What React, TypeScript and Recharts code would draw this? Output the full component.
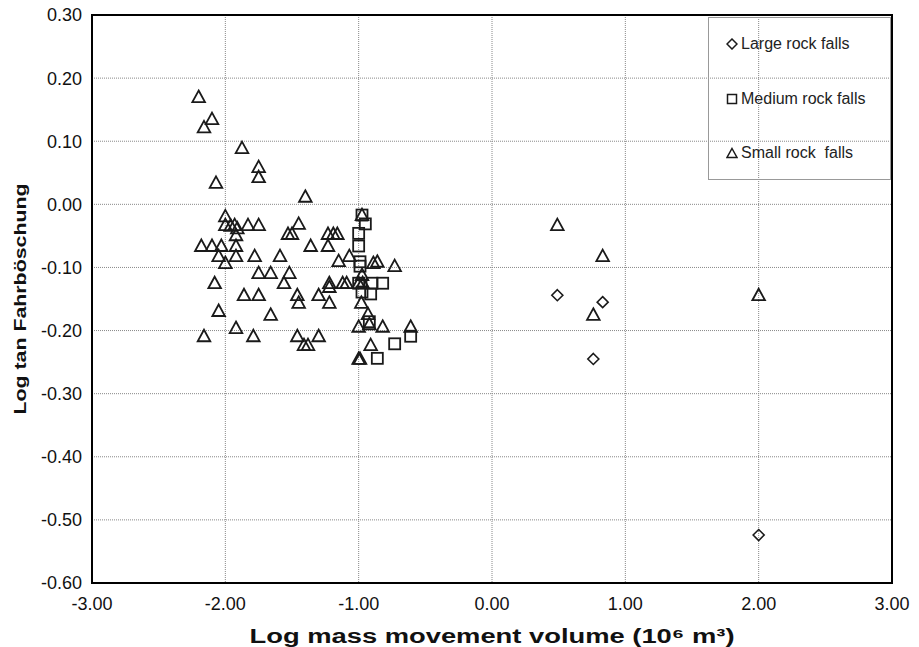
import React from "react";
import { ScatterChart, Scatter, XAxis, YAxis, CartesianGrid, ReferenceArea, Legend, Label } from "recharts";

// Log volume (x) vs log tan Fahrböschung (y)
const largeX = [0.49, 0.83, 0.76, 2.0];
const largeY = [-0.144, -0.155, -0.245, -0.524];

const mediumX = [-0.975, -0.95, -1.0, -1.0, -0.99, -0.99, -1.0, -0.9, -0.82, -0.975, -0.91, -0.92, -0.61, -0.73, -0.86];
const mediumY = [-0.017, -0.031, -0.046, -0.066, -0.091, -0.098, -0.125, -0.125, -0.125, -0.139, -0.142, -0.186, -0.209, -0.221, -0.244];

const smallX = [
  -2.2, -2.16, -2.1, -1.875, -1.75, -1.75, -2.07, -1.4,
  -2.0, -2.0, -1.96, -1.93, -1.91, -1.92, -1.83, -1.75, -1.45, -1.53, -1.5, -1.23, -1.19, -1.16,
  -2.18, -2.1, -2.03, -1.92, -1.36, -1.23,
  -2.05, -1.92, -1.78, -1.59, -1.15, -1.07,
  -2.0, -1.75, -1.66, -1.52,
  -2.08, -1.56, -1.22, -1.22, -1.12, -1.09,
  -1.86, -1.75, -1.46, -1.45, -1.3, -1.22,
  -2.05, -1.66, -1.92, -2.16, -1.79, -1.46, -1.3, -1.41, -1.38,
  -0.975, -0.89, -0.86, -0.73, -0.975, -1.0, -0.97, -0.98, -0.93, -0.92, -1.0, -0.82, -0.61, -0.91, -1.0, -0.99,
  0.49, 0.83, 0.76, 2.0,
];
const smallY = [
  0.17, 0.122, 0.135, 0.089, 0.059, 0.043, 0.034, 0.012,
  -0.019, -0.033, -0.034, -0.033, -0.038, -0.049, -0.033, -0.033, -0.031, -0.047, -0.047, -0.047, -0.047, -0.047,
  -0.066, -0.066, -0.066, -0.066, -0.066, -0.066,
  -0.082, -0.082, -0.082, -0.082, -0.09, -0.082,
  -0.093, -0.109, -0.109, -0.109,
  -0.125, -0.125, -0.125, -0.131, -0.125, -0.125,
  -0.144, -0.144, -0.144, -0.156, -0.144, -0.156,
  -0.169, -0.175, -0.196, -0.209, -0.209, -0.209, -0.209, -0.223, -0.223,
  -0.017, -0.093, -0.091, -0.098, -0.112, -0.125, -0.125, -0.156, -0.174, -0.19, -0.194, -0.194, -0.194, -0.223, -0.245, -0.245,
  -0.033, -0.082, -0.175, -0.144,
];

const xTicks = [-3, -2, -1, 0, 1, 2, 3];
const yTicks = [-0.6, -0.5, -0.4, -0.3, -0.2, -0.1, 0, 0.1, 0.2, 0.3];

const seriesNames = ["Large rock falls", "Medium rock falls", "Small rock  falls"];

const toPoints = (xs: number[], ys: number[]) => xs.map((x, i) => ({ x, y: ys[i] }));

const INK = "#1a1a1a";
const FONT = "'Liberation Sans', Arial, sans-serif";

function Diamond(p: any) {
  const r = 5.5;
  return (
    <path
      d={`M${p.cx},${p.cy - r} L${p.cx + r},${p.cy} L${p.cx},${p.cy + r} L${p.cx - r},${p.cy} Z`}
      fill="none"
      stroke={INK}
      strokeWidth={1.6}
    />
  );
}

function Square(p: any) {
  const r = 5.5;
  return <rect x={p.cx - r} y={p.cy - r} width={2 * r} height={2 * r} fill="none" stroke={INK} strokeWidth={1.8} />;
}

function Triangle(p: any) {
  return (
    <path
      d={`M${p.cx},${p.cy - 6.5} L${p.cx + 6.3},${p.cy + 5} L${p.cx - 6.3},${p.cy + 5} Z`}
      fill="none"
      stroke={INK}
      strokeWidth={1.8}
      strokeLinejoin="miter"
    />
  );
}

function LegendBox() {
  const marks = [
    <path key="d" d="M6,1 L11,6 L6,11 L1,6 Z" fill="none" stroke={INK} strokeWidth={1.5} />,
    <rect key="s" x={1.5} y={1.5} width={9} height={9} fill="none" stroke={INK} strokeWidth={1.5} />,
    <path key="t" d="M6,1.5 L11,10.5 L1,10.5 Z" fill="none" stroke={INK} strokeWidth={1.5} />,
  ];
  return (
    <div style={{ width: 183, height: 163, border: "1px solid #999", boxSizing: "border-box", position: "relative", fontFamily: FONT }}>
      {seriesNames.map((name, i) => (
        <div key={name} style={{ position: "absolute", left: 17, top: 17 + i * 54.5, display: "flex", alignItems: "center", fontSize: 16, color: "#222", whiteSpace: "pre" }}>
          <svg width={12} height={12} style={{ marginRight: 3 }}>{marks[i]}</svg>
          {name}
        </div>
      ))}
    </div>
  );
}

export default function App() {
  return (
    <div style={{ position: "absolute", left: 0, top: 0, width: 919, height: 647, background: "#fff" }}>
      <ScatterChart width={919} height={647} margin={{ top: 15, right: 27, bottom: 0, left: 0 }}>
        <CartesianGrid stroke="#888" strokeDasharray="1 1" />
        <XAxis
          type="number"
          dataKey="x"
          domain={[-3, 3]}
          ticks={xTicks}
          tickFormatter={(v: number) => v.toFixed(2)}
          height={64}
          tickSize={0}
          tickMargin={14}
          axisLine={false}
          tick={{ fontSize: 18, fill: "#111", fontFamily: FONT }}
        >
          <Label
            content={(props: any) => {
              const vb = props.viewBox;
              return (
                <text
                  x={vb.x + vb.width / 2}
                  y={643}
                  textAnchor="middle"
                  fontFamily={FONT}
                  fontWeight="bold"
                  fontSize={20}
                  fill="#111"
                  textLength={485}
                  lengthAdjust="spacingAndGlyphs"
                >
                  Log mass movement volume (10⁶ m³)
                </text>
              );
            }}
          />
        </XAxis>
        <YAxis
          type="number"
          dataKey="y"
          domain={[-0.6, 0.3]}
          ticks={yTicks}
          tickFormatter={(v: number) => v.toFixed(2)}
          width={92}
          tickSize={0}
          tickMargin={10}
          axisLine={false}
          tick={{ fontSize: 18, fill: "#111", fontFamily: FONT }}
        >
          <Label
            content={(props: any) => {
              const vb = props.viewBox;
              const cy = vb.y + vb.height / 2;
              return (
                <text
                  x={20}
                  y={cy}
                  transform={`rotate(-90 20 ${cy})`}
                  textAnchor="middle"
                  dominantBaseline="central"
                  fontFamily={FONT}
                  fontWeight="bold"
                  fontSize={17}
                  fill="#111"
                  textLength={231}
                  lengthAdjust="spacingAndGlyphs"
                >
                  Log tan Fahrböschung
                </text>
              );
            }}
          />
        </YAxis>
        <ReferenceArea x1={-3} x2={3} y1={-0.6} y2={0.3} fill="none" stroke="#000" strokeWidth={2} ifOverflow="visible" />
        <Legend
          layout="vertical"
          align="center"
          verticalAlign="middle"
          content={() => <LegendBox />}
          wrapperStyle={{ position: "absolute", left: 708, top: 17, width: 183, height: 163 }}
        />
        <Scatter name={seriesNames[0]} data={toPoints(largeX, largeY)} shape={Diamond} isAnimationActive={false} />
        <Scatter name={seriesNames[1]} data={toPoints(mediumX, mediumY)} shape={Square} isAnimationActive={false} />
        <Scatter name={seriesNames[2]} data={toPoints(smallX, smallY)} shape={Triangle} isAnimationActive={false} />
      </ScatterChart>
    </div>
  );
}
